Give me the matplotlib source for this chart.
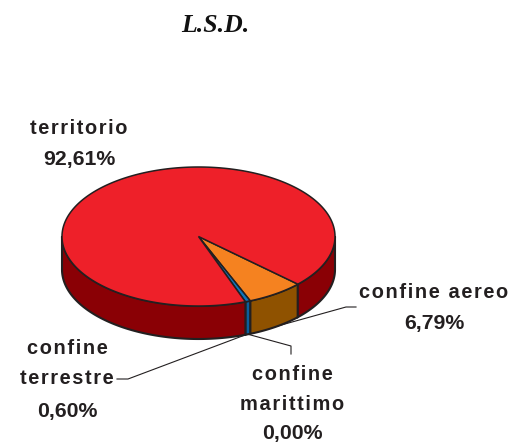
import numpy as np
import matplotlib
matplotlib.use("Agg")
import matplotlib.pyplot as plt
from matplotlib.patches import Polygon

# valori in senso orario a partire dalla fetta arancione
labels = ["confine aereo", "confine marittimo", "confine terrestre", "territorio"]
values = [6.79, 0.00, 0.60, 92.61]
value_labels = ["6,79%", "0,00%", "0,60%", "92,61%"]
top_colors = ["#f58220", "#ffffff", "#0f75bc", "#ee2029"]
side_colors = ["#8f5200", "#ffffff", "#0a5f9e", "#8a0005"]

cx, cy = 198.5, 236.5
rx, ry = 136.5, 69.5
depth = 33
start = 43.3
edge = "#231f20"

fig = plt.figure(figsize=(5.23, 4.45), dpi=100)
ax = fig.add_axes([0, 0, 1, 1])
ax.set_xlim(0, 523)
ax.set_ylim(445, 0)
ax.axis("off")


def arc(a0, a1):
    t = np.radians(np.linspace(a0, a1, max(int(abs(a1 - a0)) * 2, 2)))
    return cx + rx * np.cos(t), cy + ry * np.sin(t)


def spaced(s):
    # il riferimento ha le lettere spaziate
    return "\u200a".join(s)


# angoli delle fette
angles = start + np.concatenate([[0], np.cumsum(values)]) * 3.6

# bordo laterale (solo la parte visibile, da 0 a 180 gradi)
for i in range(len(values)):
    if values[i] == 0:
        continue
    spans = [(angles[i], angles[i + 1]), (angles[i] - 360, angles[i + 1] - 360)]
    for a0, a1 in spans:
        a0, a1 = max(a0, 0), min(a1, 180)
        if a1 <= a0:
            continue
        x, y = arc(a0, a1)
        pts = np.r_[np.c_[x, y], np.c_[x[::-1], y[::-1] + depth]]
        ax.add_patch(Polygon(pts, closed=True, fc=side_colors[i], ec=edge, lw=1.5, zorder=2))

# faccia superiore
for i in range(len(values)):
    if values[i] == 0:
        continue
    x, y = arc(angles[i], angles[i + 1])
    pts = np.r_[[[cx, cy]], np.c_[x, y]]
    ax.add_patch(Polygon(pts, closed=True, fc=top_colors[i], ec=edge, lw=1.1, zorder=3))

# linee guida
ax.plot([249, 346, 356], [334, 307, 307], color=edge, lw=0.8, zorder=1)
ax.plot([247, 291, 291], [334, 346, 354], color=edge, lw=0.8, zorder=1)
ax.plot([245, 128, 117], [335, 379, 379], color=edge, lw=0.8, zorder=1)

font = dict(family=["Liberation Sans", "DejaVu Sans"], fontweight="bold", fontsize=14.4,
            color="#231f20", ha="center", va="center")
num = dict(font, fontsize=15.3)
ax.text(79, 129, spaced("territorio"), **font)
ax.text(79, 160, value_labels[3], **num)
ax.text(434, 292, spaced("confine aereo"), **font)
ax.text(434, 323, value_labels[0], **num)
ax.text(292, 375, spaced("confine"), **font)
ax.text(292, 404, spaced("marittimo"), **font)
ax.text(292, 434, value_labels[1], **num)
ax.text(67, 349, spaced("confine"), **font)
ax.text(67, 379, spaced("terrestre"), **font)
ax.text(67, 411, value_labels[2], **num)

ax.text(215, 25, "L.S.D.", family="Liberation Serif", fontweight="bold", fontstyle="italic",
        fontsize=18.5, color="#111111", ha="center", va="center")

fig.savefig("out.png", dpi=100)
